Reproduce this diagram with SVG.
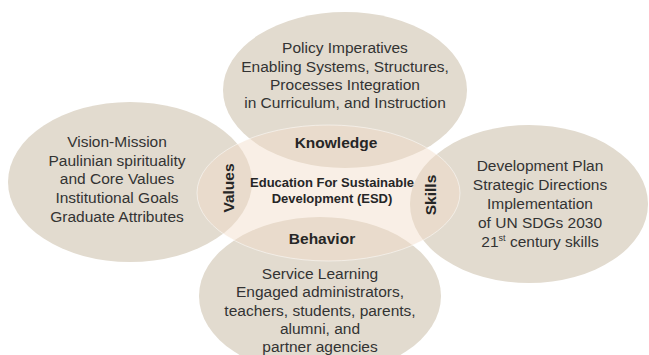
<svg xmlns="http://www.w3.org/2000/svg" width="649" height="355" viewBox="0 0 649 355">
<style>
.outer{fill:#e2dbcf;}
.center{fill:#f1dcc8;fill-opacity:0.45;stroke:#ffffff;stroke-opacity:0.5;stroke-width:1;}
.t{font-family:"Liberation Sans",Arial,sans-serif;font-size:15.5px;fill:#333333;text-anchor:middle;}
.b{font-family:"Liberation Sans",Arial,sans-serif;font-size:15.5px;font-weight:bold;fill:#262626;text-anchor:middle;}
.c{font-family:"Liberation Sans",Arial,sans-serif;font-size:13px;font-weight:bold;fill:#262626;text-anchor:middle;}
</style>
<rect width="649" height="355" fill="#ffffff"/>
<g id="top">
<ellipse class="outer" cx="345" cy="90" rx="122" ry="78"/>
<text class="t" x="345" y="53">Policy Imperatives</text>
<text class="t" x="345" y="72">Enabling Systems, Structures,</text>
<text class="t" x="345" y="90">Processes Integration</text>
<text class="t" x="345" y="108">in Curriculum, and Instruction</text>
</g>
<g id="left">
<ellipse class="outer" cx="130" cy="182" rx="122" ry="80"/>
<text class="t" x="117" y="147">Vision-Mission</text>
<text class="t" x="117" y="166">Paulinian spirituality</text>
<text class="t" x="117" y="184">and Core Values</text>
<text class="t" x="117" y="203">Institutional Goals</text>
<text class="t" x="117" y="222">Graduate Attributes</text>
</g>
<g id="right">
<ellipse class="outer" cx="529" cy="204" rx="119" ry="79"/>
<text class="t" x="540" y="170.5">Development Plan</text>
<text class="t" x="540" y="189.5">Strategic Directions</text>
<text class="t" x="540" y="208.5">Implementation</text>
<text class="t" x="540" y="228">of UN SDGs 2030</text>
<text class="t" x="540" y="247">21<tspan font-size="9" dy="-6">st</tspan><tspan dy="6"> century skills</tspan></text>
</g>
<g id="bottom">
<ellipse class="outer" cx="320" cy="296" rx="121" ry="79"/>
<text class="t" x="320" y="278.5">Service Learning</text>
<text class="t" x="320" y="297">Engaged administrators,</text>
<text class="t" x="320" y="315.5">teachers, students, parents,</text>
<text class="t" x="320" y="334">alumni, and</text>
<text class="t" x="320" y="352">partner agencies</text>
</g>
<g id="center">
<ellipse class="center" cx="328.5" cy="193" rx="131.5" ry="68"/>
<text class="b" x="336" y="147.5">Knowledge</text>
<text class="b" x="322" y="243.5">Behavior</text>
<text class="b" transform="translate(233.5,188) rotate(-90)" x="0" y="0">Values</text>
<text class="b" transform="translate(435.5,195) rotate(-90)" x="0" y="0">Skills</text>
<text class="c" x="332" y="187">Education For Sustainable</text>
<text class="c" x="332" y="203">Development (ESD)</text>
</g>
<g id="connectors"></g>
</svg>
